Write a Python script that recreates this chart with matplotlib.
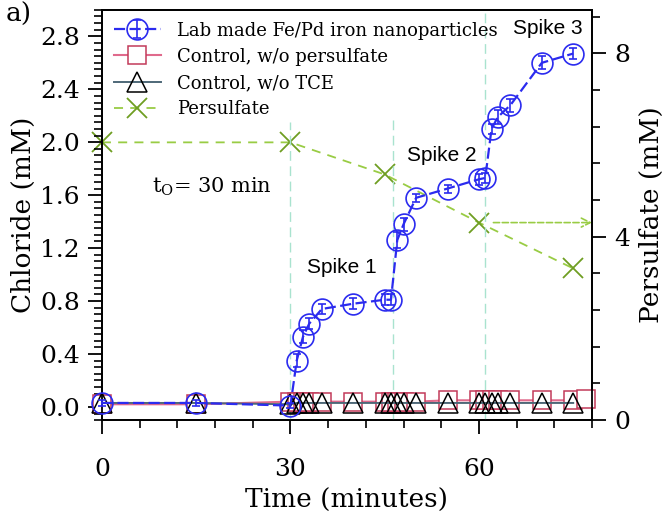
import matplotlib
matplotlib.use("Agg")
import matplotlib.pyplot as plt
from matplotlib.ticker import MultipleLocator, FixedLocator, FormatStrFormatter
import numpy as np

# sampling times (minutes)
t = [0, 15, 30, 31, 32, 33, 35, 40, 45, 46, 47, 48, 50, 55, 60, 61, 62, 63, 65, 70, 75]
# chloride, lab made Fe/Pd nanoparticles (mM)
cl_fepd = [0.03, 0.03, 0.01, 0.35, 0.53, 0.63, 0.74, 0.78, 0.81, 0.81, 1.26, 1.38,
           1.58, 1.65, 1.72, 1.73, 2.10, 2.19, 2.28, 2.60, 2.67]
cl_fepd_err = [0.02, 0.02, 0.02, 0.05, 0.05, 0.04, 0.04, 0.04, 0.04, 0.04, 0.06, 0.05,
               0.03, 0.03, 0.04, 0.04, 0.04, 0.05, 0.05, 0.05, 0.04]
# control without persulfate (one extra sample at the end)
t_nops = t + [77]
cl_nops = [0.02, 0.02, 0.04, 0.04, 0.04, 0.04, 0.04, 0.04, 0.04, 0.04, 0.04, 0.04,
           0.04, 0.05, 0.05, 0.05, 0.05, 0.05, 0.05, 0.05, 0.05, 0.06]
# control without TCE
cl_notce = [0.03, 0.03, 0.02, 0.03, 0.03, 0.03, 0.03, 0.03, 0.03, 0.03, 0.03, 0.03,
            0.03, 0.03, 0.03, 0.03, 0.03, 0.03, 0.03, 0.03, 0.03]
# persulfate (mM, right axis)
t_ps = [0, 30, 45, 60, 75]
persulfate = [6.06, 6.06, 5.36, 4.31, 3.31]

spike_times = [30, 46.4, 61]
spike_line_top = [0.727, 0.739, 1.0]
spike_labels = ["Spike 1", "Spike 2", "Spike 3"]
spike_pos = [(38.1, 1.05), (54.1, 1.90), (70.9, 2.86)]

plt.rcParams['font.family'] = "DejaVu Serif"
plt.rcParams['mathtext.fontset'] = 'dejavuserif'

fig = plt.figure(figsize=(6.66, 5.2), dpi=100)
ax = fig.add_axes([0.153, 0.192, 0.736, 0.789])
ax2 = ax.twinx()

for x, top in zip(spike_times, spike_line_top):
    ax.axvline(x, ymax=top, color="#a9e3cf", lw=1.0, ls=(0, (7, 4)), zorder=0)

ax.plot(t_nops, cl_nops, color="#e06a8c", lw=1.5, marker="s", ms=13,
        mfc="white", mec="#c23a5a", mew=1.1, label="Control, w/o persulfate",
        zorder=2, clip_on=False)
ax.plot(t, cl_notce, color="#4e6878", lw=1.4, marker="^", ms=15,
        mfc="none", mec="black", mew=1.1, label="Control, w/o TCE", zorder=3,
        clip_on=False)
ax.errorbar(t, cl_fepd, yerr=cl_fepd_err, color="#2b2bef", lw=1.6, ls=(0, (5, 2)),
            marker="o", ms=15, mfc="none", mec="#2b2bef", mew=1.2,
            ecolor="#2b2bef", elinewidth=1.2, capsize=3, capthick=1.2,
            label="Lab made Fe/Pd iron nanoparticles", zorder=4, clip_on=False)

ps_line, = ax2.plot(t_ps, persulfate, color="#99cc44", lw=1.3, ls=(0, (5, 4)),
                    marker="x", ms=15, mec="#6f9e22", mew=1.3, label="Persulfate",
                    clip_on=False)
ax2.annotate("", xy=(78, persulfate[3]), xytext=(62.3, persulfate[3]),
             arrowprops=dict(arrowstyle="->", color="#99cc44", lw=1.2, ls="--",
                             mutation_scale=16, shrinkA=0, shrinkB=0))

ax.set_xlim(0, 78)
ax.set_ylim(-0.1, 3.0)
ax2.set_ylim(0, 8.95)

ax.xaxis.set_major_locator(FixedLocator([0, 30, 60]))
ax.xaxis.set_minor_locator(MultipleLocator(6))
ax.yaxis.set_major_locator(FixedLocator(np.arange(0, 2.81, 0.4)))
ax.yaxis.set_minor_locator(MultipleLocator(0.05))
ax.yaxis.set_major_formatter(FormatStrFormatter("%.1f"))
ax2.yaxis.set_major_locator(FixedLocator([0, 4, 8]))
ax2.yaxis.set_minor_locator(MultipleLocator(0.8))

for a in (ax, ax2):
    a.tick_params(which="major", direction="out", length=10, width=1.3, labelsize=18, pad=6)
    a.tick_params(which="minor", direction="out", length=6, width=1.2)
    for s in a.spines.values():
        s.set_linewidth(1.3)
ax.tick_params(axis="x", pad=17)

ax.set_xlabel("Time (minutes)", fontsize=19, labelpad=5)
ax.set_ylabel("Chloride (mM)", fontsize=19, labelpad=3)
ax2.set_ylabel("Persulfate (mM)", fontsize=19, labelpad=6)

for lab, (x, y) in zip(spike_labels, spike_pos):
    ax.text(x, y, lab, fontsize=15, family="Liberation Sans", ha="center", va="center",
            zorder=7)
ax.text(0.102, 0.568, r"t$_\mathrm{O}$= 30 min", transform=ax.transAxes, fontsize=15,
        ha="left", va="center")
fig.text(0.008, 0.972, "a)", fontsize=19, ha="left", va="center")

h, l = ax.get_legend_handles_labels()
order = [2, 0, 1]
handles = [h[i] for i in order] + [ps_line]
labels = [l[i] for i in order] + ["Persulfate"]
leg = ax.legend(handles, labels, loc="upper left", bbox_to_anchor=(0.0, 1.0),
                fontsize=13, frameon=False, handlelength=2.6, handletextpad=0.9,
                labelspacing=0.45, borderaxespad=0.45, borderpad=0.2)
leg.set_zorder(5)
ax.set_zorder(ax2.get_zorder() + 1)
ax.patch.set_visible(False)

fig.savefig("out.png", dpi=100)
